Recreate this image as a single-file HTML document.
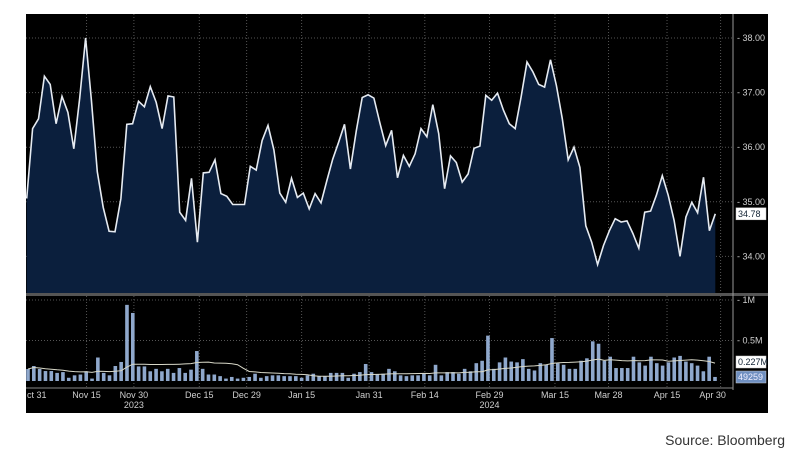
<!DOCTYPE html>
<html><head><meta charset="utf-8"><style>
body{margin:0;background:#fff;width:800px;height:461px;overflow:hidden;font-family:"Liberation Sans",sans-serif}
svg text{font-family:"Liberation Sans",sans-serif}
</style></head><body>
<svg id="chart" width="800" height="461" xmlns="http://www.w3.org/2000/svg">
<rect x="26" y="14" width="742" height="399" fill="#000"/>
<g id="grid"></g>
<path id="area" fill="#0b1f3d"/>
<path id="line" fill="none" stroke="#e6ebf2" stroke-width="1.6"/>
<rect x="26" y="293" width="742" height="3" fill="#555"/>
<g id="bars"></g>
<path id="ma" fill="none" stroke="#d8d8c8" stroke-width="1"/>
<line x1="733" y1="14" x2="733" y2="390" stroke="#999" stroke-width="1"/>
<line x1="26" y1="388" x2="733" y2="388" stroke="#888" stroke-width="1"/>
<g id="axes" font-size="9" fill="#cfcfcf"></g>
<text x="785" y="445" text-anchor="end" font-size="14" fill="#333">Source: Bloomberg</text>
</svg>
<script>
const priceValues=[35.06,36.34,36.52,37.30,37.15,36.43,36.93,36.64,35.97,36.9,38.0,36.86,35.55,34.90,34.46,34.45,35.06,36.42,36.43,36.84,36.74,37.11,36.82,36.34,36.94,36.92,34.81,34.66,35.43,34.26,35.53,35.54,35.77,35.15,35.10,34.95,34.95,34.95,35.65,35.58,36.12,36.40,35.95,35.16,34.99,35.43,35.08,35.16,34.87,35.15,34.98,35.39,35.78,36.09,36.42,35.60,36.30,36.91,36.96,36.90,36.45,36.03,36.31,35.44,
35.85,35.65,35.88,36.34,36.19,36.78,36.25,35.24,35.84,35.72,35.36,35.51,35.98,36.02,36.95,36.86,36.99,36.68,36.43,36.34,36.92,37.56,37.38,37.15,37.10,37.60,37.13,36.52,35.77,36.00,35.63,34.56,34.26,33.85,34.20,34.47,34.69,34.63,34.65,34.42,34.15,34.81,34.83,35.12,35.48,35.12,34.66,34.00,34.72,34.99,34.80,35.45,34.47,34.78];
const volumeValues=[.148,.185,.148,.123,.123,.10,.11,.04,.07,.08,.12,.03,.29,.10,.07,.185,.235,.94,.84,.18,.18,.12,.15,.12,.15,.10,.16,.10,.14,.37,.15,.08,.08,.06,.03,.05,.03,.04,.05,.09,.04,.06,.07,.07,.06,.06,.06,.04,.07,.09,.06,.06,.10,.10,.10,.04,.09,.11,.21,.11,.08,.09,.15,.12,
.07,.06,.07,.07,.09,.07,.20,.07,.11,.11,.09,.15,.12,.22,.25,.56,.15,.23,.29,.24,.23,.27,.15,.13,.22,.20,.53,.22,.20,.15,.15,.25,.28,.49,.46,.25,.30,.16,.16,.16,.30,.23,.19,.30,.22,.19,.23,.29,.31,.24,.22,.19,.12,.30,.05];
const priceTicks=[38,37,36,35,34];
const priceTickLabels=["38.00","37.00","36.00","35.00","34.00"];
const volTicks=[1,0.5];
const volTickLabels=["1M","0.5M"];
const dateLabels=["ct 31","Nov 15","Nov 30","Dec 15","Dec 29","Jan 15","Jan 31","Feb 14","Feb 29","Mar 15","Mar 28","Apr 15","Apr 30"];
const dateFrac=[0,0.087,0.155,0.249,0.317,0.396,0.493,0.573,0.666,0.760,0.837,0.921,0.998];
const yearLabels=["2023","2024"];
const yearIdx=[2,8];
const lastPrice="34.78", lastMA="0.227M", lastVol="49259";

const NS="http://www.w3.org/2000/svg";
const X0=26.7,X1=715.3;
const px=i=>X0+(X1-X0)*i/(priceValues.length-1);
const vx=i=>28+(715-28)*i/(volumeValues.length-1);
const py=v=>38+(38-v)*54.6;
const vy=v=>381-v*81;
const dx=f=>26+f*(722-26);
function mk(tag,attrs,parent){const e=document.createElementNS(NS,tag);for(const k in attrs)e.setAttribute(k,attrs[k]);parent.appendChild(e);return e;}
const grid=document.getElementById('grid'),axes=document.getElementById('axes'),bars=document.getElementById('bars');
priceTicks.forEach((t,i)=>{
  const l=mk('line',{x1:26,x2:733,y1:py(t),y2:py(t),stroke:'#555','stroke-dasharray':'1,2'},grid);
  
  
  const tx=mk('text',{x:737,y:py(t)+3},axes);tx.textContent='- '+priceTickLabels[i];
  
  
});
volTicks.forEach((t,i)=>{
  const l=mk('line',{x1:26,x2:733,y1:vy(t),y2:vy(t),stroke:'#555','stroke-dasharray':'1,2'},grid);
  
  
  const tx=mk('text',{x:737,y:vy(t)+3},axes);tx.textContent='- '+volTickLabels[i];
  
  
});
dateLabels.forEach((d,i)=>{
  const x=dx(dateFrac[i]);
  if(i>0){const l=mk('line',{x1:x,x2:x,y1:14,y2:388,stroke:'#555','stroke-dasharray':'1,2'},grid);
  
  }
  const tx=mk('text',{x:i==0?27:(i==12?x-8:x),y:398,'text-anchor':i==0?'start':'middle'},axes);tx.textContent=d;
  
  
});
yearLabels.forEach((y,i)=>{
  const tx=mk('text',{x:dx(dateFrac[yearIdx[i]]),y:408,'text-anchor':'middle'},axes);tx.textContent=y;
  
  
});
let d='';priceValues.forEach((v,i)=>{d+=(i?'L':'M')+px(i).toFixed(1)+','+py(v).toFixed(1);});
document.getElementById('line').setAttribute('d',d);
document.getElementById('area').setAttribute('d',d+'L'+px(priceValues.length-1)+',293L'+X0+',293Z');
volumeValues.forEach((v,i)=>{
  const r=mk('rect',{x:vx(i)-1.8,y:vy(v),width:3.6,height:381-vy(v),fill:'#8fa8cc'},bars);
  
  
});
let md='';volumeValues.forEach((v,i)=>{const s=volumeValues.slice(Math.max(0,i-19),i+1);const m=s.reduce((a,b)=>a+b,0)/s.length;md+=(i?'L':'M')+vx(i).toFixed(1)+','+vy(m).toFixed(1);});
document.getElementById('ma').setAttribute('d',md);
function badge(txt,y,bg,fg,name){
  const g=mk('g',{},axes);
  
  
  mk('rect',{x:736,y:y-6,width:30,height:12,fill:bg,stroke:'#ccc','stroke-width':0.5},g);
  const t=mk('text',{x:738,y:y+3,fill:fg},g);t.textContent=txt;
}
badge(lastPrice,py(priceValues[priceValues.length-1]),'#fff','#123','last-price-badge');
badge(lastMA,362,'#fff','#123','last-ma-badge');
badge(lastVol,377,'#6f8fc0','#eef','last-volume-badge');
</script>
</body></html>
